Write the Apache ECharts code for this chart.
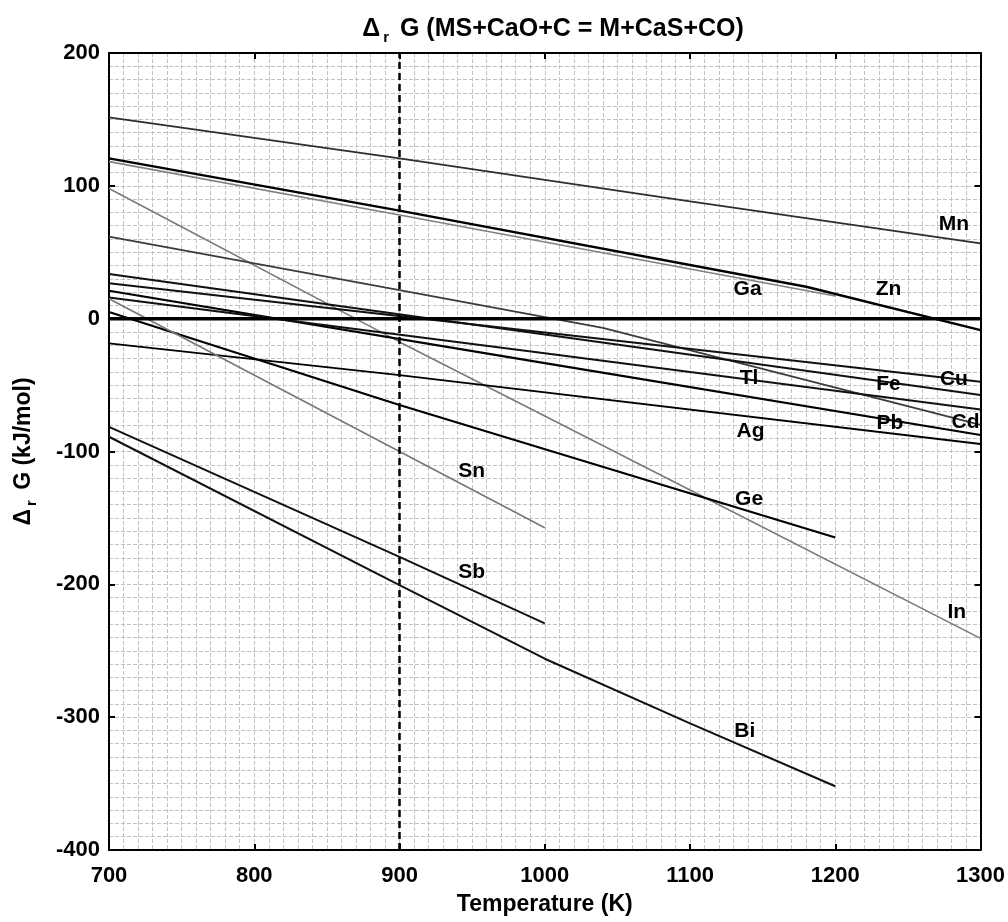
<!DOCTYPE html>
<html>
<head>
<meta charset="utf-8">
<script src="https://cdn.jsdelivr.net/npm/echarts@6/dist/echarts.min.js"></script>
<style>
html,body{margin:0;padding:0;background:#fff;}
#chart{width:1008px;height:922px;}
</style>
</head>
<body>
<div id="chart"></div>
<script>
// Temperature (K), ΔrG (kJ/mol) pairs
const Mn = [[700,151.5],[900,120.7],[1100,88.3],[1300,56.7]];
const Zn = [[700,120.7],[900,81.3],[1180,24],[1300,-8.6]];
const Ga = [[700,118.2],[900,78],[1200,17]];
const In = [[700,98],[900,-17.5],[1100,-129],[1300,-240.7]];
const Cd = [[700,61.7],[900,21.5],[1040,-7],[1300,-80]];
const Fe = [[700,33.6],[1000,-12],[1300,-57.5]];
const Cu = [[700,26.6],[1000,-10.5],[1300,-47.5]];
const Pb = [[700,21],[1000,-33.5],[1300,-87.6]];
const Tl = [[700,16],[1000,-26],[1300,-68.3]];
const Ag = [[700,-18.6],[900,-42.5],[1300,-94.4]];
const Ge = [[700,5],[900,-65],[1200,-164.7]];
const Sn = [[700,15],[900,-100],[1000,-157.4]];
const Sb = [[700,-81.4],[900,-179.3],[1000,-229.4]];
const Bi = [[700,-88.9],[900,-200.6],[1000,-256],[1100,-304.7],[1200,-352]];
const zeroLine = [[700,0],[1300,0]];
const refLine = [[900,-400],[900,200]];

const labelNames = ['Mn','Zn','Ga','Cu','Fe','Tl','Pb','Cd','Ag','Ge','Sn','Sb','In','Bi'];
const labelT = [1282,1237,1140,1282,1237,1141,1238,1290,1142,1141,950,950,1284,1138];
const labelG = [70.5,21.5,21.5,-46,-50,-45,-79,-78,-85,-136,-115,-191,-221,-311];

const xTicks = {min:700, max:1300, interval:100};
const yTicks = {min:-400, max:200, interval:100};

const FONT = 'Liberation Sans, Arial, sans-serif';
const gridLine = {show:true, lineStyle:{color:'#c2c2c2', width:1, type:[4,2]}};
const subStyle = {fontFamily:FONT, fontSize:15, fontWeight:'bold', color:'#000', padding:[16,4,0,3]};

function line(name, data, color, width){
  return {name, type:'line', data, showSymbol:false, symbol:'none', silent:true,
    lineStyle:{color, width}, z:3, animation:false};
}

const chart = echarts.init(document.getElementById('chart'), null, {renderer:'canvas'});
const labelData = labelNames.map((n,i)=>[labelT[i], labelG[i], n]);

chart.setOption({
  animation:false,
  backgroundColor:'#fff',
  title:{
    text:'Δ{sub|r} G (MS+CaO+C = M+CaS+CO)',
    left:548, top:9, textAlign:'center',
    textStyle:{fontFamily:FONT, fontSize:25, fontWeight:'bold', color:'#000', rich:{sub:subStyle}}
  },
  grid:{left:109, right:27, top:53, bottom:72, containLabel:false},
  xAxis:[{
    type:'value', min:xTicks.min, max:xTicks.max, interval:xTicks.interval,
    name:'Temperature (K)', nameLocation:'middle', nameGap:43,
    nameTextStyle:{fontFamily:FONT, fontSize:23, fontWeight:'bold', color:'#000'},
    axisLine:{show:true, onZero:false, lineStyle:{color:'#000', width:2}},
    axisTick:{show:true, inside:true, length:6, lineStyle:{color:'#000', width:2}},
    axisLabel:{fontFamily:FONT, fontSize:22, fontWeight:'bold', color:'#000', margin:15,
      formatter:v=>String(v)},
    splitLine:gridLine,
    minorTick:{show:true, splitNumber:10, length:0},
    minorSplitLine:gridLine
  },{
    type:'value', position:'top', min:xTicks.min, max:xTicks.max, interval:xTicks.interval,
    axisLine:{show:true, onZero:false, lineStyle:{color:'#000', width:2}},
    axisTick:{show:true, inside:true, length:6, lineStyle:{color:'#000', width:2}},
    axisLabel:{show:false}, splitLine:{show:false}
  }],
  yAxis:[{
    type:'value', min:yTicks.min, max:yTicks.max, interval:yTicks.interval,
    name:'Δ{sub|r} G (kJ/mol)', nameLocation:'middle', nameGap:70, nameRotate:90,
    nameTextStyle:{fontFamily:FONT, fontSize:23, fontWeight:'bold', color:'#000', rich:{sub:subStyle}},
    axisLine:{show:true, onZero:false, lineStyle:{color:'#000', width:2}},
    axisTick:{show:true, inside:true, length:6, lineStyle:{color:'#000', width:2}},
    axisLabel:{fontFamily:FONT, fontSize:22, fontWeight:'bold', color:'#000', margin:9,
      formatter:v=>String(v)},
    splitLine:gridLine,
    minorTick:{show:true, splitNumber:10, length:0},
    minorSplitLine:gridLine
  },{
    type:'value', position:'right', min:yTicks.min, max:yTicks.max, interval:yTicks.interval,
    axisLine:{show:true, onZero:false, lineStyle:{color:'#000', width:2}},
    axisTick:{show:true, inside:true, length:6, lineStyle:{color:'#000', width:2}},
    axisLabel:{show:false}, splitLine:{show:false}
  }],
  series:[
    line('Mn', Mn, '#2e2e2e', 1.8),
    line('Zn', Zn, '#000', 2.4),
    line('Ga', Ga, '#808080', 1.6),
    line('In', In, '#7a7a7a', 1.6),
    line('Cd', Cd, '#3c3c3c', 1.8),
    line('Fe', Fe, '#111', 2),
    line('Cu', Cu, '#111', 2),
    line('Pb', Pb, '#000', 2.2),
    line('Tl', Tl, '#111', 2),
    line('Ag', Ag, '#000', 2),
    line('Ge', Ge, '#000', 2.2),
    line('Sn', Sn, '#777', 1.6),
    line('Sb', Sb, '#111', 2),
    line('Bi', Bi, '#111', 2),
    {name:'zero', type:'line', data:zeroLine, symbol:'none', silent:true,
      lineStyle:{color:'#000', width:3.5}, z:4},
    {name:'900K', type:'line', data:refLine, symbol:'none', silent:true,
      lineStyle:{color:'#000', width:2.5, type:[7,4]}, z:4},
    {name:'labels', type:'scatter', data:labelData, symbolSize:1, silent:true,
      itemStyle:{color:'rgba(0,0,0,0)'}, z:6,
      label:{show:true, position:[0,0], align:'center', verticalAlign:'middle',
        formatter:p=>p.data[2], textBorderWidth:0, opacity:1,
        fontFamily:FONT, fontSize:21, fontWeight:'bold', color:'#000'}}
  ]
});
</script>
</body>
</html>
